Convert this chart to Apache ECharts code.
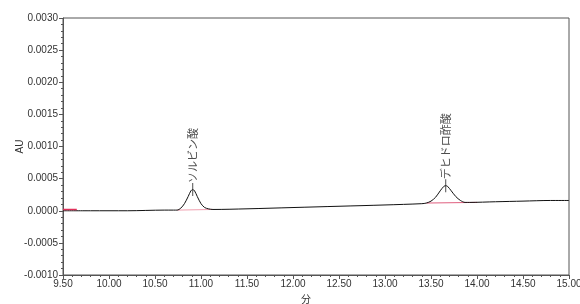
<!DOCTYPE html>
<html>
<head>
<meta charset="utf-8">
<script src="https://cdn.jsdelivr.net/npm/echarts@6/dist/echarts.min.js"></script>
<style>
html,body{margin:0;padding:0;background:#fff;}
#chart{width:580px;height:304px;}
</style>
</head>
<body>
<div id="chart"></div>
<script>
// クロマトグラム 時間(分) と 吸光度(AU)
var times = [9.50, 9.80, 10.20, 10.60, 10.70, 10.74, 10.78, 10.82, 10.86, 10.89, 10.91, 10.93, 10.96, 11.00, 11.04, 11.08, 11.13,
             11.50, 12.00, 12.50, 13.00, 13.40, 13.45, 13.50, 13.55, 13.60, 13.64, 13.66, 13.68, 13.72, 13.77, 13.82, 13.87, 13.92,
             14.20, 14.50, 14.80, 15.00];
var au = [0.00000, 0.00000, 0.00000, 0.00001, 0.00001, 0.00001, 0.00004, 0.00011, 0.00022, 0.00031, 0.00033, 0.00031, 0.00022, 0.00011, 0.00005, 0.00003, 0.00002,
          0.00003, 0.00005, 0.00007, 0.00009, 0.00011, 0.00012, 0.00015, 0.00021, 0.00031, 0.00038, 0.00039, 0.00038, 0.00031, 0.00022, 0.00016, 0.00013, 0.00013,
          0.00014, 0.00015, 0.00016, 0.00016];

var peakNames = ['ソルビン酸', 'デヒドロ酢酸'];
var peakTimes = [10.91, 13.66];
var peakAU = [0.00033, 0.00039];

// 積分ベースライン (赤)
var baseTimes1 = [9.50, 9.65];
var baseAU1 = [0.00002, 0.00002];
var baseTimes2 = [10.74, 11.13];
var baseAU2 = [0.00001, 0.00002];
var baseTimes3 = [13.45, 14.00];
var baseAU3 = [0.00012, 0.00013];

var xTicks = [9.5, 10, 10.5, 11, 11.5, 12, 12.5, 13, 13.5, 14, 14.5, 15];
var yTicks = [-0.0010, -0.0005, 0.0000, 0.0005, 0.0010, 0.0015, 0.0020, 0.0025, 0.0030];

function pairs(xs, ys) {
	var out = [];
	for (var i = 0; i < xs.length; i++) out.push([xs[i], ys[i]]);
	return out;
}

var peakData = [];
for (var i = 0; i < peakNames.length; i++) {
	peakData.push({ name: peakNames[i], value: [peakTimes[i], peakAU[i]] });
}

var myChart = echarts.init(document.getElementById('chart'));
var option = {
	backgroundColor: '#fff',
	animation: false,
	grid: { left: 63, right: 11, top: 18, bottom: 29, outerBoundsMode: 'none', containLabel: false, show: true, borderColor: '#555', borderWidth: 1, backgroundColor: 'transparent' },
	xAxis: {
		type: 'value',
		min: xTicks[0],
		max: xTicks[xTicks.length - 1],
		interval: 0.5,
		name: '分',
		nameLocation: 'middle',
		nameGap: 18,
		nameTextStyle: { color: '#333', fontSize: 10, fontFamily: '"Noto Sans CJK JP"', padding: [0, 20, 0, 0] },
		axisLine: { onZero: false, lineStyle: { color: '#555', width: 1 } },
		axisTick: { length: 4, lineStyle: { color: '#555' } },
		minorTick: { show: true, splitNumber: 5, length: 2, lineStyle: { color: '#555' } },
		splitLine: { show: false },
		axisLabel: {
			color: '#333', fontSize: 10, margin: 4, fontFamily: 'Arial, "Liberation Sans", sans-serif',
			showMinLabel: true, showMaxLabel: true,
			formatter: function (v) { return v.toFixed(2); }
		}
	},
	yAxis: {
		type: 'value',
		min: yTicks[0],
		max: yTicks[yTicks.length - 1],
		interval: 0.0005,
		name: 'AU',
		nameLocation: 'middle',
		nameRotate: 90,
		nameGap: 38,
		nameMoveOverlap: false,
		nameTextStyle: { color: '#333', fontSize: 10, fontFamily: 'Arial, sans-serif' },
		axisLine: { show: true, onZero: false, lineStyle: { color: '#555', width: 1 } },
		axisTick: { show: true, length: 4, lineStyle: { color: '#555' } },
		minorTick: { show: true, splitNumber: 5, length: 2, lineStyle: { color: '#555' } },
		splitLine: { show: false },
		axisLabel: {
			color: '#333', fontSize: 10, margin: 5, fontFamily: 'Arial, "Liberation Sans", sans-serif',
			formatter: function (v) { return v.toFixed(4); }
		}
	},
	series: [
		{
			type: 'line',
			data: pairs(times, au),
			showSymbol: false,
			smooth: 0.3,
			lineStyle: { color: '#111', width: 1 },
			z: 3
		},
		{ type: 'line', data: pairs(baseTimes1, baseAU1), showSymbol: false, lineStyle: { color: '#e0305a', width: 1.5 }, z: 4 },
		{ type: 'line', data: pairs(baseTimes2, baseAU2), showSymbol: false, lineStyle: { color: '#f0a0b0', width: 1 }, z: 2 },
		{ type: 'line', data: pairs(baseTimes3, baseAU3), showSymbol: false, lineStyle: { color: '#e06080', width: 1 }, z: 2 },
		{
			type: 'scatter',
			data: peakData,
			symbol: 'rect',
			symbolSize: [1, 13],
			itemStyle: { color: '#222' },
			label: {
				show: true,
				formatter: '{b}',
				position: 'top',
				distance: 0,
				rotate: 90,
				align: 'left',
				verticalAlign: 'middle',
				color: '#222',
				fontSize: 11,
				fontFamily: '"Noto Sans CJK JP"'
			},
			z: 5
		}
	]
};
myChart.setOption(option);
</script>
</body>
</html>
